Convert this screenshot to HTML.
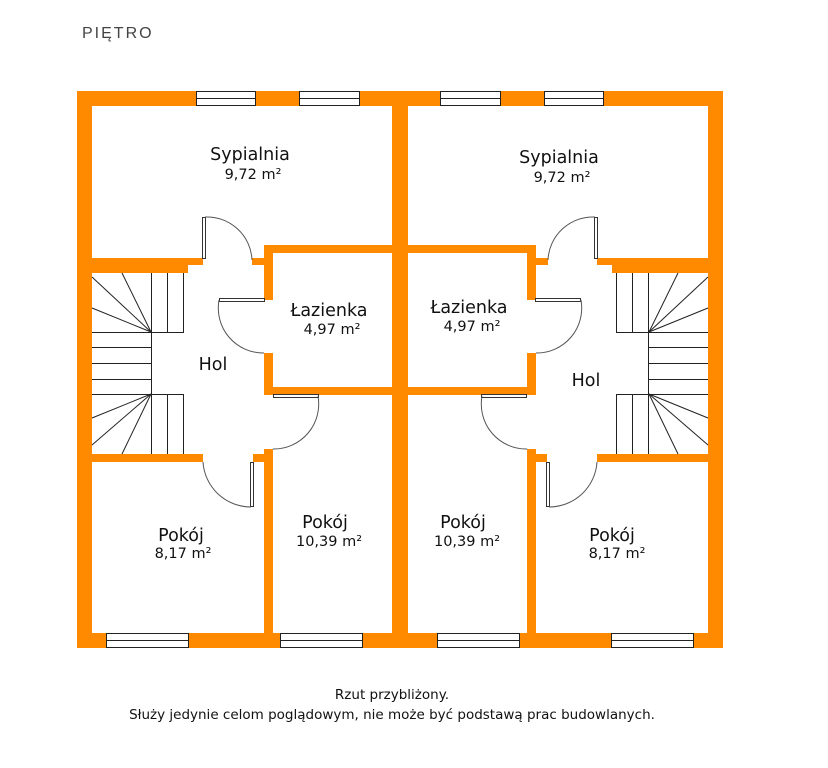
<!DOCTYPE html>
<html><head><meta charset="utf-8"><style>
html,body{margin:0;padding:0;background:#fff;}
svg{display:block;}
text{font-family:"DejaVu Sans","Liberation Sans",sans-serif;fill:#111;}
</style></head><body>
<svg width="828" height="768" viewBox="0 0 828 768" xmlns="http://www.w3.org/2000/svg">
<text x="82" y="38" font-size="16" letter-spacing="2" style="font-family:'Liberation Sans',sans-serif;fill:#444;font-weight:300">PIĘTRO</text>
<defs>
<g id="half">
  <g fill="#ff8a00">
    <rect x="77" y="91" width="323" height="15"/>
    <rect x="77" y="91" width="15" height="557"/>
    <rect x="77" y="633" width="323" height="15"/>
    <rect x="392" y="91" width="8" height="557"/>
    <rect x="77" y="258" width="126" height="7"/>
    <rect x="77" y="258" width="111" height="15"/>
    <rect x="252" y="258" width="21" height="7"/>
    <rect x="264" y="245" width="136" height="8"/>
    <rect x="264" y="245" width="9" height="55"/>
    <rect x="264" y="353" width="9" height="42"/>
    <rect x="264" y="387" width="136" height="8"/>
    <rect x="77" y="454" width="126" height="8"/>
    <rect x="253" y="454" width="20" height="8"/>
    <rect x="264" y="449" width="9" height="190"/>
  </g>
  <g fill="#fff" stroke="#222" stroke-width="1">
    <rect x="196.5" y="91.5" width="59" height="14"/>
    <rect x="299.5" y="91.5" width="60" height="14"/>
    <rect x="106.5" y="633.5" width="82" height="14"/>
    <rect x="280.5" y="633.5" width="82" height="14"/>
  </g>
  <g stroke="#222" stroke-width="1">
    <line x1="196" y1="98.5" x2="256" y2="98.5"/>
    <line x1="299" y1="98.5" x2="360" y2="98.5"/>
    <line x1="106" y1="640.5" x2="189" y2="640.5"/>
    <line x1="280" y1="640.5" x2="363" y2="640.5"/>
  </g>
  <g stroke="#222" stroke-width="1" fill="none">
    <line x1="151.5" y1="273" x2="151.5" y2="454"/>
    <line x1="167.5" y1="273" x2="167.5" y2="332"/>
    <line x1="167.5" y1="394" x2="167.5" y2="454"/>
    <line x1="183.5" y1="273" x2="183.5" y2="332"/>
    <line x1="183.5" y1="394" x2="183.5" y2="454"/>
    <line x1="151" y1="332.5" x2="184" y2="332.5"/>
    <line x1="151" y1="394.5" x2="184" y2="394.5"/>
    <line x1="92" y1="347.5" x2="151" y2="347.5"/>
    <line x1="92" y1="363.5" x2="151" y2="363.5"/>
    <line x1="92" y1="379.5" x2="151" y2="379.5"/>
    <line x1="92" y1="332.5" x2="151" y2="332.5"/>
    <line x1="92" y1="394.5" x2="151" y2="394.5"/>
    <line x1="151" y1="332" x2="92" y2="277"/>
    <line x1="151" y1="332" x2="122" y2="273"/>
    <line x1="151" y1="332" x2="92" y2="308"/>
    <line x1="151" y1="394" x2="92" y2="418"/>
    <line x1="151" y1="394" x2="92" y2="445"/>
    <line x1="151" y1="394" x2="122" y2="454"/>
  </g>
  <g stroke="#333" stroke-width="1" fill="#fff">
    <rect x="202.5" y="217.5" width="3" height="41"/>
    <rect x="219.5" y="298.5" width="45" height="3"/>
    <rect x="250.5" y="462.5" width="3" height="44"/>
    <rect x="273.5" y="394.5" width="45" height="3"/>
  </g>
  <g stroke="#555" stroke-width="1" fill="none">
    <path d="M205 217 A45 45 0 0 1 252 260"/>
    <path d="M219 300 A45 45 0 0 0 264 353"/>
    <path d="M203 462 A48 48 0 0 0 251 507"/>
    <path d="M318 396 A45 45 0 0 1 273 449"/>
  </g>
</g>
</defs>
<use href="#half"/>
<use href="#half" transform="translate(800,0) scale(-1,1)"/>
<g text-anchor="middle">
  <text x="250" y="160" font-size="17.5">Sypialnia</text>
  <text x="253" y="179" font-size="14.5">9,72 m²</text>
  <text x="559" y="163" font-size="17.5">Sypialnia</text>
  <text x="562" y="182" font-size="14.5">9,72 m²</text>
  <text x="329" y="316" font-size="17.5">Łazienka</text>
  <text x="332" y="334" font-size="14.5">4,97 m²</text>
  <text x="469" y="313" font-size="17.5">Łazienka</text>
  <text x="472" y="331" font-size="14.5">4,97 m²</text>
  <text x="213" y="370" font-size="17.5">Hol</text>
  <text x="586" y="386" font-size="17.5">Hol</text>
  <text x="181" y="541" font-size="17.5">Pokój</text>
  <text x="183" y="558" font-size="14.5">8,17 m²</text>
  <text x="325" y="528" font-size="17.5">Pokój</text>
  <text x="329" y="546" font-size="14.5">10,39 m²</text>
  <text x="463" y="528" font-size="17.5">Pokój</text>
  <text x="467" y="546" font-size="14.5">10,39 m²</text>
  <text x="612" y="541" font-size="17.5">Pokój</text>
  <text x="617" y="558" font-size="14.5">8,17 m²</text>
  <text x="392" y="699" font-size="13.5">Rzut przybliżony.</text>
  <text x="392" y="719" font-size="13.5">Służy jedynie celom poglądowym, nie może być podstawą prac budowlanych.</text>
</g>
</svg>
</body></html>
